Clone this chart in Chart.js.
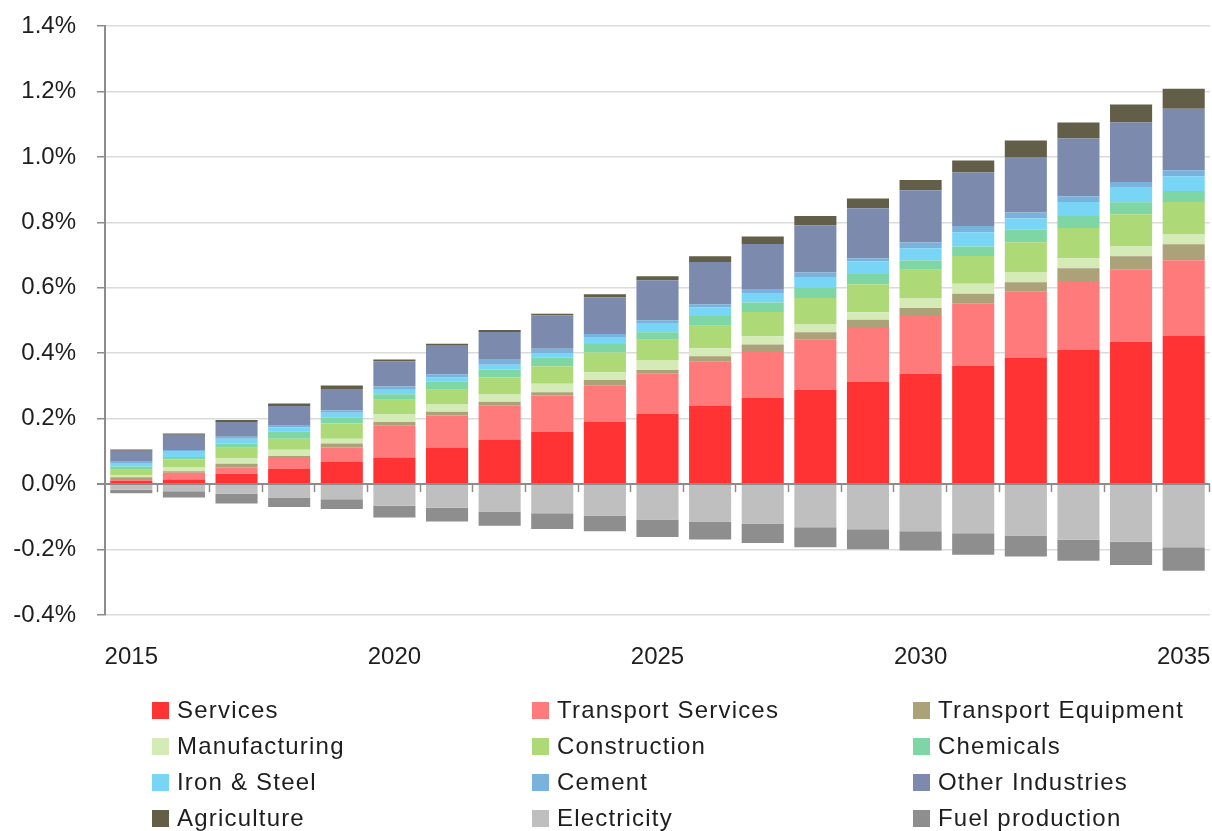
<!DOCTYPE html>
<html>
<head>
<meta charset="utf-8">
<script src="https://cdn.jsdelivr.net/npm/chart.js@4.4.1/dist/chart.umd.min.js"></script>
<style>
  html, body { margin: 0; padding: 0; background: #fff; }
  #wrap { position: relative; width: 1212px; height: 831px; overflow: hidden; }
  #c { position: absolute; left: 0; top: 0; }
  #legend { position: absolute; left: 152px; top: 692px; display: grid;
    grid-template-columns: 380px 381px auto; grid-auto-rows: 36px;
    font-family: "Liberation Sans", Arial, sans-serif; font-size: 24px; color: #1e1e1e;
    letter-spacing: 1.2px; }
  .item { display: flex; align-items: center; white-space: nowrap; }
  .sw { width: 17px; height: 17px; margin-right: 8px; flex: none; }
</style>
</head>
<body>
<div id="wrap">
  <canvas id="c" width="1212" height="700"></canvas>
  <div id="legend"></div>
</div>
<script>
const years = ["2015","2016","2017","2018","2019","2020","2021","2022","2023","2024","2025","2026","2027","2028","2029","2030","2031","2032","2033","2034","2035"];

const services           = [0.010,0.014,0.032,0.046,0.069,0.081,0.112,0.136,0.160,0.190,0.215,0.240,0.264,0.288,0.313,0.337,0.362,0.387,0.410,0.435,0.453];
const transportServices  = [0.006,0.021,0.019,0.037,0.043,0.097,0.098,0.105,0.111,0.112,0.122,0.134,0.140,0.153,0.164,0.177,0.189,0.201,0.208,0.220,0.231];
const transportEquipment = [0.005,0.004,0.011,0.003,0.012,0.012,0.011,0.011,0.010,0.016,0.012,0.017,0.023,0.023,0.025,0.024,0.031,0.029,0.042,0.041,0.049];
const manufacturing      = [0.005,0.012,0.018,0.019,0.015,0.024,0.024,0.022,0.026,0.024,0.030,0.024,0.025,0.025,0.023,0.031,0.030,0.031,0.030,0.030,0.030];
const construction       = [0.018,0.025,0.031,0.034,0.046,0.044,0.043,0.052,0.053,0.060,0.062,0.069,0.074,0.080,0.086,0.086,0.085,0.091,0.093,0.099,0.099];
const chemicals          = [0.010,0.007,0.013,0.021,0.018,0.017,0.025,0.024,0.026,0.026,0.023,0.030,0.029,0.030,0.031,0.028,0.029,0.038,0.036,0.036,0.034];
const ironSteel          = [0.008,0.016,0.015,0.013,0.015,0.013,0.013,0.015,0.015,0.019,0.026,0.026,0.029,0.032,0.038,0.038,0.044,0.035,0.043,0.045,0.045];
const cement             = [0.006,0.005,0.006,0.005,0.008,0.010,0.010,0.015,0.013,0.012,0.011,0.010,0.010,0.016,0.010,0.017,0.019,0.018,0.018,0.017,0.018];
const otherIndustries    = [0.034,0.047,0.045,0.061,0.065,0.077,0.087,0.085,0.102,0.112,0.122,0.129,0.140,0.143,0.153,0.160,0.163,0.170,0.176,0.182,0.188];
const agriculture        = [0.004,0.004,0.006,0.007,0.010,0.006,0.006,0.006,0.005,0.009,0.012,0.017,0.023,0.029,0.030,0.031,0.037,0.050,0.049,0.055,0.061];
const electricity        = [-0.017,-0.022,-0.029,-0.041,-0.046,-0.066,-0.072,-0.084,-0.089,-0.096,-0.108,-0.114,-0.120,-0.132,-0.138,-0.144,-0.150,-0.157,-0.170,-0.176,-0.193];
const fuelProduction     = [-0.011,-0.019,-0.030,-0.029,-0.030,-0.036,-0.042,-0.043,-0.048,-0.048,-0.054,-0.055,-0.060,-0.061,-0.061,-0.059,-0.066,-0.064,-0.064,-0.071,-0.072];

const yTicks = [-0.4,-0.2,0.0,0.2,0.4,0.6,0.8,1.0,1.2,1.4];
const xLabelEvery = 5;

const series = [
  { label: "Services",            data: services,           color: "#FF3333" },
  { label: "Transport Services",  data: transportServices,  color: "#FF7B7B" },
  { label: "Transport Equipment", data: transportEquipment, color: "#ABA27A" },
  { label: "Manufacturing",       data: manufacturing,      color: "#D4EBB8" },
  { label: "Construction",        data: construction,       color: "#ADD977" },
  { label: "Chemicals",           data: chemicals,          color: "#7DD6A4" },
  { label: "Iron & Steel",        data: ironSteel,          color: "#78D5F5" },
  { label: "Cement",              data: cement,             color: "#79B3DD" },
  { label: "Other Industries",    data: otherIndustries,    color: "#7C8BAD" },
  { label: "Agriculture",         data: agriculture,        color: "#625E48" },
  { label: "Electricity",         data: electricity,        color: "#BFBFBF" },
  { label: "Fuel production",     data: fuelProduction,     color: "#8E8E8E" }
];

const isZero = v => Math.abs(v) < 1e-9;

const zeroTicks = {
  id: 'zeroTicks',
  afterDraw(chart) {
    const x = chart.scales.x, y = chart.scales.y, ctx = chart.ctx;
    const y0 = y.getPixelForValue(0);
    const n = years.length;
    const w = (x.right - x.left) / n;
    ctx.save();
    ctx.strokeStyle = '#8c8c8c';
    ctx.lineWidth = 1.5;
    for (let i = 1; i <= n; i++) {
      const px = Math.round(x.left + i * w) - 0.5;
      ctx.beginPath();
      ctx.moveTo(px, y0);
      ctx.lineTo(px, y0 + 8);
      ctx.stroke();
    }
    ctx.restore();
  }
};

new Chart(document.getElementById('c'), {
  type: 'bar',
  data: {
    labels: years,
    datasets: series.map(s => ({
      label: s.label, data: s.data, backgroundColor: s.color,
      borderWidth: 0, barPercentage: 0.8, categoryPercentage: 1.0
    }))
  },
  options: {
    responsive: false,
    animation: false,
    layout: { padding: { top: 26, right: 2, left: 0, bottom: 0 } },
    plugins: { legend: { display: false }, tooltip: { enabled: false } },
    scales: {
      x: {
        stacked: true,
        grid: { display: false, drawTicks: false },
        border: { display: false },
        afterFit: axis => { axis.paddingLeft = 0; axis.paddingRight = 0; axis.height = 85; },
        ticks: {
          autoSkip: false, maxRotation: 0, padding: 28,
          color: '#1e1e1e',
          font: { family: '"Liberation Sans", Arial, sans-serif', size: 24 },
          callback: function(v, i) { return i % xLabelEvery === 0 ? years[i] : ''; }
        }
      },
      y: {
        stacked: true,
        z: 1,
        min: yTicks[0], max: yTicks[yTicks.length - 1],
        afterBuildTicks: axis => { axis.ticks = yTicks.map(v => ({ value: v })); },
        afterFit: axis => { axis.width = 105; axis.paddingTop = 0; axis.paddingBottom = 0; },
        grid: {
          color: ctx => (ctx.tick && isZero(ctx.tick.value)) ? '#8c8c8c' : 'rgba(0,0,0,0.14)',
          lineWidth: ctx => (ctx.tick && isZero(ctx.tick.value)) ? 2 : 1.5,
          tickColor: '#8c8c8c',
          tickLength: 8
        },
        border: { display: true, color: '#8c8c8c', width: 2 },
        ticks: {
          padding: 21,
          color: '#1e1e1e',
          font: { family: '"Liberation Sans", Arial, sans-serif', size: 24 },
          callback: v => (isZero(v) ? 0 : v).toFixed(1) + '%'
        }
      }
    }
  },
  plugins: [zeroTicks]
});

const lg = document.getElementById('legend');
series.forEach(s => {
  const it = document.createElement('div');
  it.className = 'item';
  const sw = document.createElement('span');
  sw.className = 'sw';
  sw.style.background = s.color;
  const tx = document.createElement('span');
  tx.textContent = s.label;
  it.appendChild(sw); it.appendChild(tx);
  lg.appendChild(it);
});
</script>
</body>
</html>
